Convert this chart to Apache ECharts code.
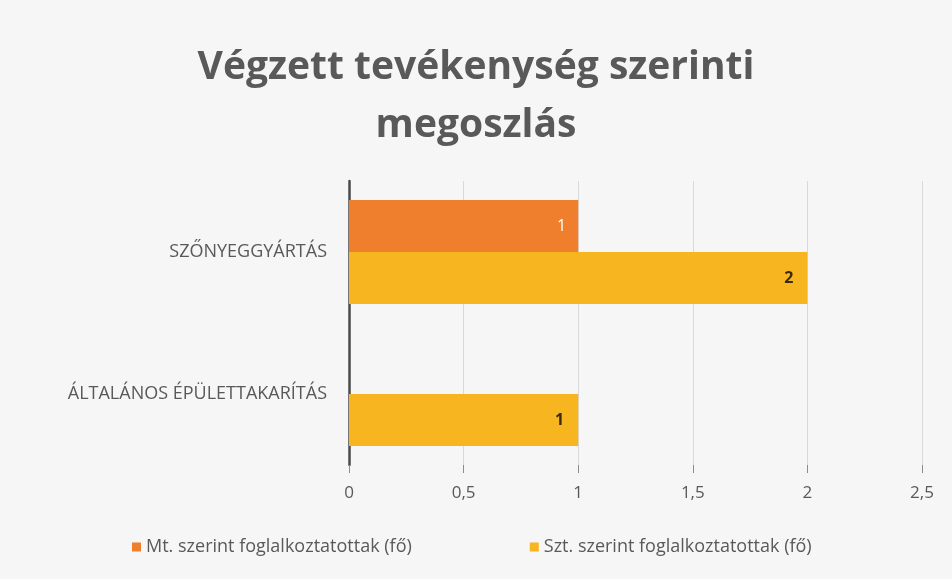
<!DOCTYPE html>
<html>
<head>
<meta charset="utf-8">
<script src="https://cdn.jsdelivr.net/npm/echarts@6/dist/echarts.min.js"></script>
<style>
  html, body { margin: 0; padding: 0; background: #f5f5f5; }
  #chart { width: 952px; height: 579px; }
</style>
</head>
<body>
<div id="chart"></div>
<script>
var categories = ['ÁLTALÁNOS ÉPÜLETTAKARÍTÁS', 'SZŐNYEGGYÁRTÁS'];
var mtValues = [0, 1];
var sztValues = [1, 2];
var seriesNames = ['Mt. szerint foglalkoztatottak (fő)', 'Szt. szerint foglalkoztatottak (fő)'];

var chartDom = document.getElementById('chart');
var myChart = echarts.init(chartDom);
var option;

var font = '"Open Sans", "Noto Sans", sans-serif';

option = {
    backgroundColor: '#f6f6f6',
    textStyle: { fontFamily: font },
    title: {
        text: 'Végzett tevékenység szerinti\nmegoszlás',
        left: 'center',
        top: 34,
        textStyle: {
            color: '#595959',
            fontSize: 39,
            fontWeight: 'bold',
            fontFamily: font,
            lineHeight: 58
        }
    },
    legend: {
        bottom: 18,
        left: 127,
        itemWidth: 9,
        itemHeight: 9,
        itemGap: 118,
        icon: 'rect',
        textStyle: { color: '#595959', fontSize: 18, fontFamily: font },
        data: seriesNames
    },
    grid: {
        left: 349,
        right: 30,
        top: 181,
        bottom: 114
    },
    xAxis: {
        type: 'value',
        min: 0,
        max: 2.5,
        interval: 0.5,
        axisLine: { show: false },
        axisTick: { show: true, length: 8, lineStyle: { color: '#8c8c8c' } },
        splitLine: { show: true, lineStyle: { color: '#d9d9d9', width: 1 } },
        axisLabel: {
            color: '#595959',
            fontSize: 17,
            margin: 20,
            formatter: function (v) { return String(v).replace('.', ','); }
        }
    },
    yAxis: {
        type: 'category',
        data: categories,
        axisLine: { show: true, lineStyle: { color: '#4a4a4a', width: 2.5 } },
        axisTick: { show: false },
        axisLabel: { color: '#595959', fontSize: 18, margin: 22 }
    },
    series: [
        {
            name: seriesNames[0],
            type: 'bar',
            data: mtValues,
            barWidth: 52,
            barGap: '0%',
            itemStyle: { color: '#ef7f2c' },
            label: {
                show: true,
                position: 'insideRight',
                color: '#ffffff',
                fontSize: 16,
                distance: 12,
                formatter: function (p) { return p.value ? p.value : ''; }
            }
        },
        {
            name: seriesNames[1],
            type: 'bar',
            data: sztValues,
            barWidth: 52,
            barGap: '0%',
            itemStyle: { color: '#f7b520' },
            label: {
                show: true,
                position: 'insideRight',
                color: '#3b2a0c',
                fontSize: 16,
                fontWeight: 'bold',
                distance: 14,
                formatter: function (p) { return p.value ? p.value : ''; }
            }
        }
    ]
};

option && myChart.setOption(option);

window.addEventListener('resize', function () {
    myChart.resize();
});
</script>
</body>
</html>
